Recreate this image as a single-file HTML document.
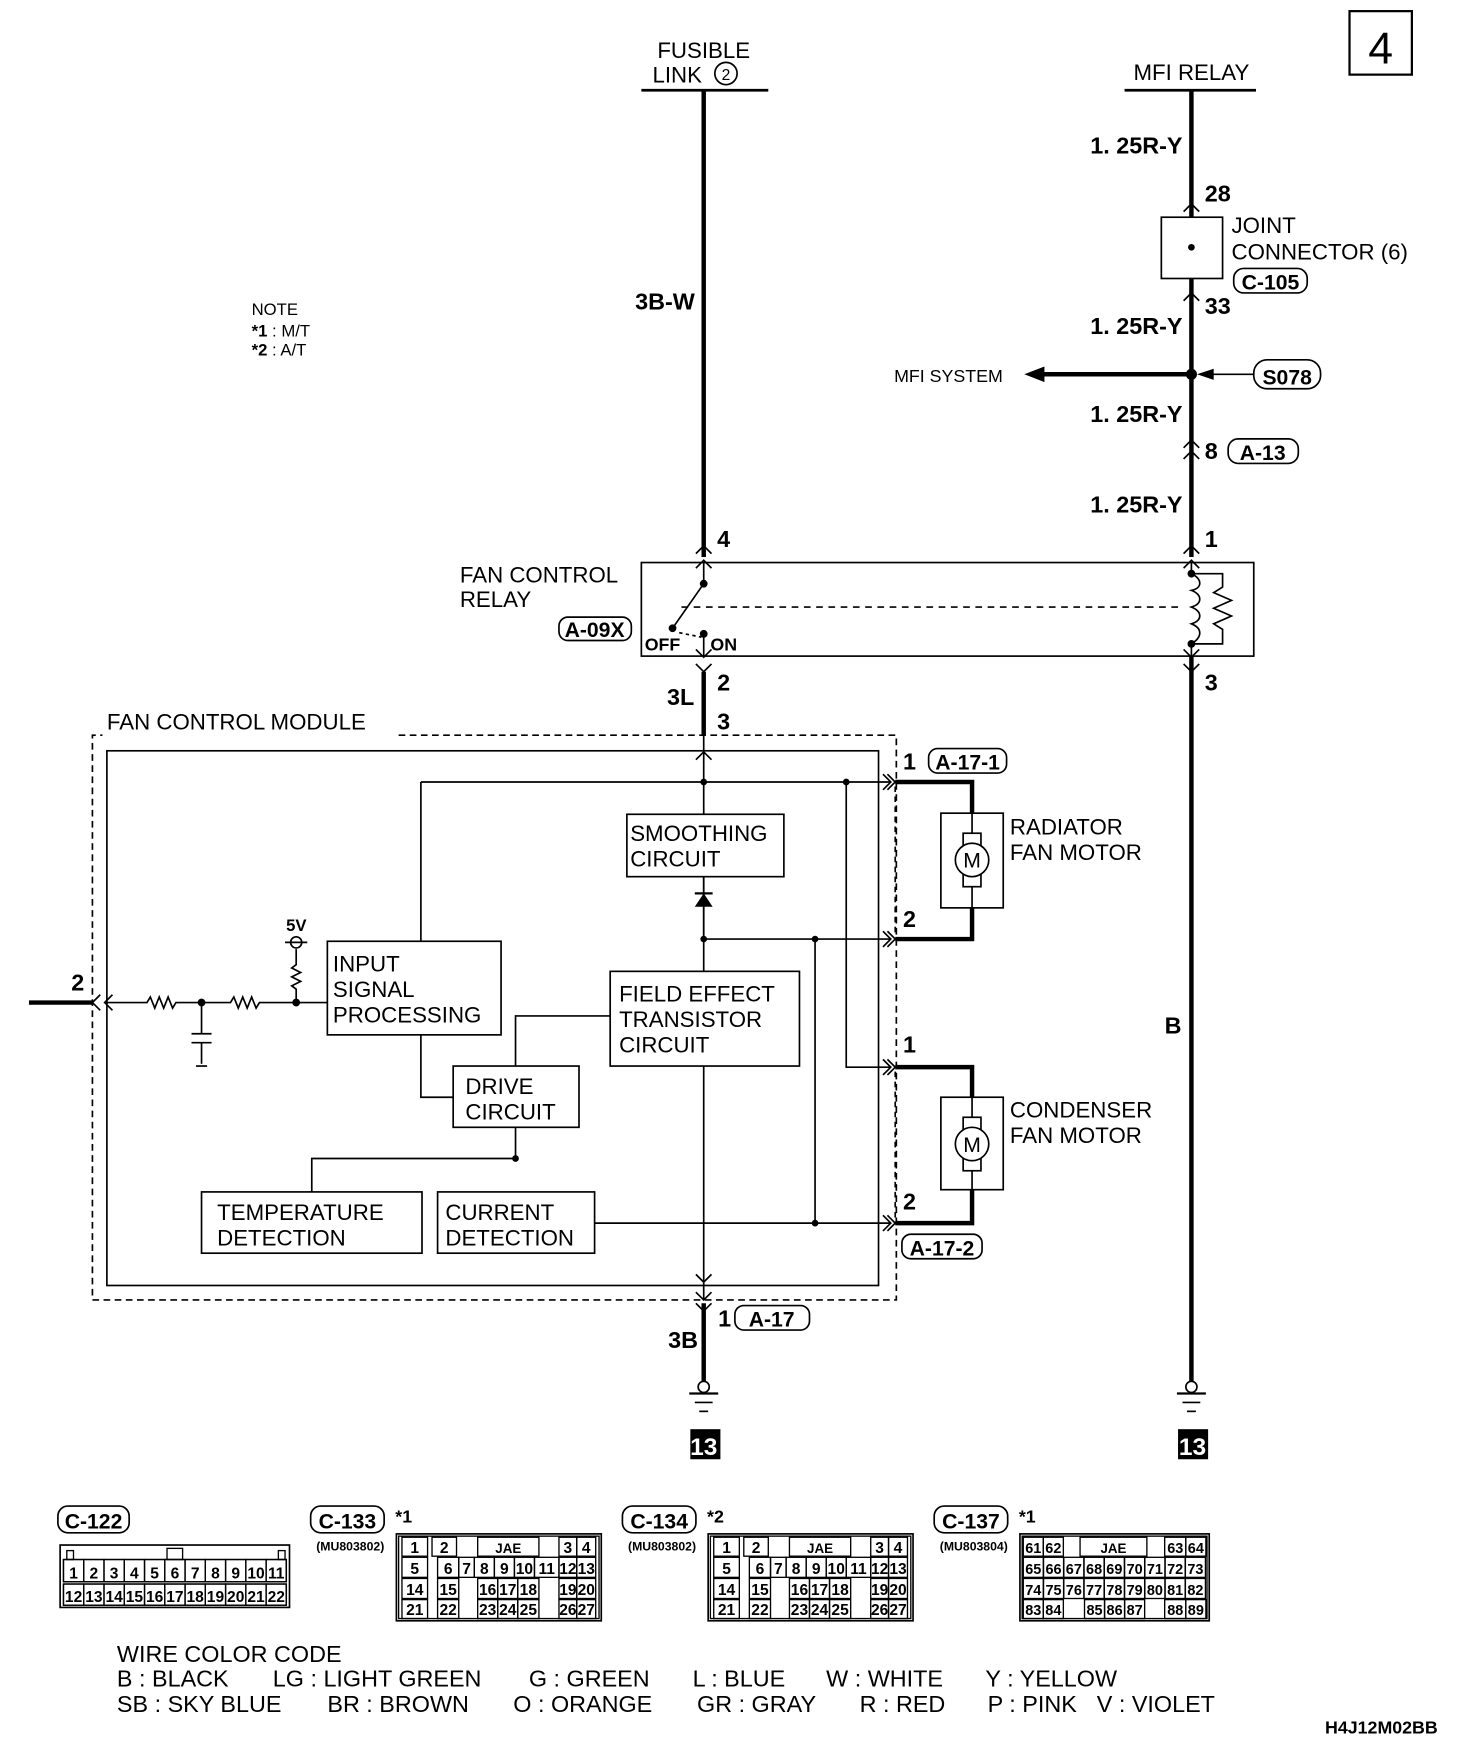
<!DOCTYPE html>
<html><head><meta charset="utf-8"><style>
html,body{margin:0;padding:0;background:#fff}
svg{display:block}
text{font-family:"Liberation Sans",sans-serif;fill:#000}
.b{font-weight:bold}
.n{font-family:"Liberation Sans Narrow","Liberation Sans",sans-serif;font-weight:bold}
</style></head><body>
<svg id="s" width="1472" height="1750" viewBox="0 0 1322 1571" preserveAspectRatio="none" xmlns="http://www.w3.org/2000/svg">
<g stroke="#000" fill="none" stroke-width="1.5">
<rect x="1212" y="10" width="56" height="57" stroke-width="2"/>
<line x1="576" y1="81" x2="690" y2="81" stroke-width="2.5"/>
<line x1="1010" y1="81" x2="1128" y2="81" stroke-width="2.5"/>
<circle cx="652" cy="66" r="10"/>
<line x1="632" y1="81" x2="632" y2="500" stroke-width="4"/>
<line x1="1070" y1="81" x2="1070" y2="500" stroke-width="4"/>
<rect x="1043" y="195" width="55" height="55" fill="#fff"/>
<polyline points="1063,190 1070,183 1077,190"/>
<polyline points="1063,270 1070,263 1077,270"/>
<rect x="1108" y="241" width="66" height="22" rx="9"/>
<line x1="930" y1="336" x2="1070" y2="336" stroke-width="4"/>
<rect x="1126" y="323" width="60" height="26" rx="12"/>
<line x1="1126" y1="336" x2="1080" y2="336"/>
<rect x="1103" y="394" width="63" height="22" rx="9"/>
<polyline points="1063,402 1070,395 1077,402"/>
<polyline points="1063,412 1070,405 1077,412"/>
<rect x="576" y="505" width="550" height="84"/>
<polyline points="625,497 632,490 639,497"/><polyline points="625,510 632,503 639,510"/>
<polyline points="1063,497 1070,490 1077,497"/><polyline points="1063,510 1070,503 1077,510"/>
<polyline points="625,583 632,590 639,583"/><polyline points="625,596 632,603 639,596"/>
<polyline points="1063,583 1070,590 1077,583"/><polyline points="1063,596 1070,603 1077,596"/>
<line x1="632" y1="505" x2="632" y2="524"/>
<line x1="632" y1="524" x2="604" y2="564"/>
<line x1="612" y1="545" x2="1062" y2="545" stroke-dasharray="6,5"/>
<line x1="632" y1="572" x2="632" y2="589"/>
<line x1="610" y1="568" x2="630" y2="572" stroke-dasharray="3,3"/>
<line x1="1070" y1="505" x2="1070" y2="515"/>
<path d="M1070,515 C1080,520 1080,528 1070,530 C1080,534 1080,542 1070,545 C1080,549 1080,557 1070,560 C1080,564 1080,572 1070,578"/>
<line x1="1070" y1="578" x2="1070" y2="589"/>
<polyline points="1070,515 1098,515 1098,527 1090,532 1106,539 1090,546 1106,553 1090,560 1098,565 1098,578 1070,578"/>
<rect x="502" y="554" width="65" height="21" rx="8"/>
<line x1="632" y1="603" x2="632" y2="660" stroke-width="4"/>
<line x1="1070" y1="589" x2="1070" y2="1240" stroke-width="4"/>
<path d="M358,660 H805 V1167 H83 V660 H92" stroke-dasharray="6,4"/>
<rect x="96" y="674" width="693" height="480"/>
<line x1="632" y1="660" x2="632" y2="1167"/>
<polyline points="625,682 632,675 639,682"/>
<polyline points="625,1144 632,1151 639,1144"/>
<line x1="378" y1="702" x2="800" y2="702"/>
<line x1="378" y1="702" x2="378" y2="845"/>
<rect x="563" y="731" width="141" height="56" fill="#fff"/>
<line x1="632" y1="843" x2="800" y2="843"/>
<rect x="294" y="845" width="156" height="84" fill="#fff"/>
<rect x="548" y="872" width="170" height="85" fill="#fff"/>
<polyline points="548,912 463,912 463,957"/>
<polyline points="378,929 378,985 407,985"/>
<rect x="407" y="957" width="113" height="55" fill="#fff"/>
<polyline points="463,1012 463,1040 280,1040 280,1070"/>
<rect x="181" y="1070" width="198" height="55" fill="#fff"/>
<rect x="393" y="1070" width="141" height="55" fill="#fff"/>
<line x1="534" y1="1098" x2="800" y2="1098"/>
<line x1="732" y1="843" x2="732" y2="1098"/>
<polyline points="760,702 760,958 800,958"/>
<polyline points="793,695 800,702 793,709"/><polyline points="797,695 804,702 797,709"/>
<polyline points="793,836 800,843 793,850"/><polyline points="797,836 804,843 797,850"/>
<polyline points="793,951 800,958 793,965"/><polyline points="797,951 804,958 797,965"/>
<polyline points="793,1091 800,1098 793,1105"/><polyline points="797,1091 804,1098 797,1105"/>
<line x1="804" y1="706" x2="804" y2="840" stroke-dasharray="5,4"/>
<line x1="804" y1="962" x2="804" y2="1094" stroke-dasharray="5,4"/>
<polyline points="804,702 873,702 873,730" stroke-width="4"/>
<polyline points="873,815 873,843 804,843" stroke-width="4"/>
<rect x="845" y="730" width="56" height="85"/>
<line x1="873" y1="730" x2="873" y2="815"/>
<rect x="865" y="748" width="16" height="48" fill="#fff"/>
<circle cx="873" cy="772" r="15" fill="#fff"/>
<polyline points="804,958 873,958 873,985" stroke-width="4"/>
<polyline points="873,1068 873,1098 804,1098" stroke-width="4"/>
<rect x="845" y="985" width="56" height="83"/>
<line x1="873" y1="985" x2="873" y2="1068"/>
<rect x="865" y="1003" width="16" height="48" fill="#fff"/>
<circle cx="873" cy="1027" r="15" fill="#fff"/>
<rect x="834" y="672" width="70" height="22" rx="8"/>
<rect x="810" y="1108" width="72" height="22" rx="8"/>
<line x1="26" y1="900" x2="83" y2="900" stroke-width="4"/>
<polyline points="90,893 83,900 90,907"/><polyline points="101,893 94,900 101,907"/>
<polyline points="94,900 132,900 135,895 139,905 143,895 147,905 151,895 155,905 158,900 207,900 210,895 214,905 218,895 222,905 226,895 230,905 233,900 294,900"/>
<line x1="181" y1="900" x2="181" y2="928"/>
<line x1="172" y1="928" x2="190" y2="928"/><line x1="172" y1="936" x2="190" y2="936"/>
<line x1="181" y1="936" x2="181" y2="955"/>
<line x1="176" y1="957" x2="186" y2="957"/>
<polyline points="266,900 266,888 262,885 270,881 262,877 270,873 262,869 266,866 266,852"/>
<circle cx="266" cy="846" r="5"/>
<line x1="256" y1="846" x2="276" y2="846"/>
<polyline points="625,1160 632,1167 639,1160"/><polyline points="625,1170 632,1177 639,1170"/>
<line x1="632" y1="1170" x2="632" y2="1240" stroke-width="4"/>
<rect x="660" y="1172" width="67" height="22" rx="8"/>
<circle cx="632" cy="1245" r="5"/><line x1="619" y1="1251" x2="645" y2="1251" stroke-width="2"/><line x1="624" y1="1259" x2="640" y2="1259"/><line x1="628" y1="1267" x2="636" y2="1267"/>
<circle cx="1070" cy="1245" r="5"/><line x1="1057" y1="1251" x2="1083" y2="1251" stroke-width="2"/><line x1="1062" y1="1259" x2="1078" y2="1259"/><line x1="1066" y1="1267" x2="1074" y2="1267"/>
<rect x="52" y="1352" width="64" height="24" rx="9"/>
<rect x="279" y="1352" width="66" height="24" rx="9"/>
<rect x="559" y="1352" width="66" height="24" rx="9"/>
<rect x="839" y="1352" width="66" height="24" rx="9"/>
</g>
<g fill="#000">
<polygon points="920,336 938,329 938,343"/>
<polygon points="1075,336 1090,331 1090,341"/>
<circle cx="1070" cy="222" r="3"/>
<circle cx="1070" cy="336" r="5"/>
<circle cx="632" cy="524" r="3.5"/><circle cx="604" cy="564" r="3.5"/><circle cx="632" cy="569" r="3.5"/>
<circle cx="1070" cy="515" r="3.5"/><circle cx="1070" cy="578" r="3.5"/>
<circle cx="632" cy="702" r="3"/><circle cx="760" cy="702" r="3"/>
<circle cx="632" cy="843" r="3"/><circle cx="732" cy="843" r="3"/>
<circle cx="463" cy="1040" r="3"/><circle cx="732" cy="1098" r="3"/>
<circle cx="181" cy="900" r="3.5"/><circle cx="266" cy="900" r="3.5"/>
<polygon points="624,814 640,814 632,802"/><rect x="624" y="801" width="16" height="2"/>
<rect x="620" y="1283" width="27" height="27"/>
<rect x="1058" y="1283" width="27" height="27"/>
</g>
<line x1="632" y1="787" x2="632" y2="843" stroke="#000" stroke-width="1.5"/>
<text x="1240" y="57" font-size="40" text-anchor="middle">4</text>
<text x="632" y="52" font-size="20" text-anchor="middle">FUSIBLE</text>
<text x="586" y="74" font-size="20">LINK</text>
<text x="652" y="72" font-size="14" text-anchor="middle">2</text>
<text x="1070" y="72" font-size="20" text-anchor="middle">MFI RELAY</text>
<g class="n" font-size="21">
<text x="1062" y="138" text-anchor="end" class="n">1. 25R-Y</text>
<text x="1062" y="300" text-anchor="end" class="n">1. 25R-Y</text>
<text x="1062" y="379" text-anchor="end" class="n">1. 25R-Y</text>
<text x="1062" y="460" text-anchor="end" class="n">1. 25R-Y</text>
<text x="1082" y="181" class="n">28</text>
<text x="1082" y="282" class="n">33</text>
<text x="1082" y="412" class="n">8</text>
<text x="624" y="278" text-anchor="end" class="n">3B-W</text>
<text x="644" y="491" class="n">4</text>
<text x="1082" y="491" class="n">1</text>
<text x="644" y="620" class="n">2</text>
<text x="1082" y="620" class="n">3</text>
<text x="599" y="633" class="n">3L</text>
<text x="644" y="655" class="n">3</text>
<text x="64" y="889" class="n">2</text>
<text x="811" y="691" class="n">1</text>
<text x="811" y="832" class="n">2</text>
<text x="811" y="945" class="n">1</text>
<text x="811" y="1086" class="n">2</text>
<text x="1046" y="928" class="n">B</text>
<text x="645" y="1191" class="n">1</text>
<text x="600" y="1210" class="n">3B</text>
</g>
<g class="n" font-size="19">
<text x="1141" y="260" text-anchor="middle" class="n">C-105</text>
<text x="1156" y="345" text-anchor="middle" class="n">S078</text>
<text x="1134" y="413" text-anchor="middle" class="n">A-13</text>
<text x="534" y="572" text-anchor="middle" class="n">A-09X</text>
<text x="869" y="691" text-anchor="middle" class="n">A-17-1</text>
<text x="846" y="1127" text-anchor="middle" class="n">A-17-2</text>
<text x="693" y="1191" text-anchor="middle" class="n">A-17</text>
<text x="84" y="1372" text-anchor="middle" class="n">C-122</text>
<text x="312" y="1372" text-anchor="middle" class="n">C-133</text>
<text x="592" y="1372" text-anchor="middle" class="n">C-134</text>
<text x="872" y="1372" text-anchor="middle" class="n">C-137</text>
</g>
<text x="579" y="584" font-size="16" class="n">OFF</text>
<text x="638" y="584" font-size="16" class="n">ON</text>
<text x="257" y="836" font-size="15" class="n">5V</text>
<text x="632" y="1306" font-size="22" text-anchor="middle" class="n" style="fill:#fff">13</text>
<text x="1071" y="1306" font-size="22" text-anchor="middle" class="n" style="fill:#fff">13</text>
<text x="1106" y="209" font-size="20">JOINT</text>
<text x="1106" y="233" font-size="20">CONNECTOR (6)</text>
<text x="803" y="343" font-size="16">MFI SYSTEM</text>
<text x="226" y="283" font-size="15">NOTE</text>
<text x="226" y="302" font-size="15"><tspan class="b">*1</tspan> : M/T</text>
<text x="226" y="319" font-size="15"><tspan class="b">*2</tspan> : A/T</text>
<text x="413" y="523" font-size="20">FAN CONTROL</text>
<text x="413" y="545" font-size="20">RELAY</text>
<text x="96" y="655" font-size="20">FAN CONTROL MODULE</text>
<g font-size="20">
<text x="566" y="755">SMOOTHING</text><text x="566" y="778">CIRCUIT</text>
<text x="299" y="872">INPUT</text><text x="299" y="895">SIGNAL</text><text x="299" y="918">PROCESSING</text>
<text x="556" y="899">FIELD EFFECT</text><text x="556" y="922">TRANSISTOR</text><text x="556" y="945">CIRCUIT</text>
<text x="418" y="982">DRIVE</text><text x="418" y="1005">CIRCUIT</text>
<text x="195" y="1095">TEMPERATURE</text><text x="195" y="1118">DETECTION</text>
<text x="400" y="1095">CURRENT</text><text x="400" y="1118">DETECTION</text>
<text x="907" y="749">RADIATOR</text><text x="907" y="772">FAN MOTOR</text>
<text x="907" y="1003">CONDENSER</text><text x="907" y="1026">FAN MOTOR</text>
</g>
<text x="873" y="779" font-size="19" text-anchor="middle">M</text>
<text x="873" y="1034" font-size="19" text-anchor="middle">M</text>
<text x="355" y="1367" font-size="16" class="b">*1</text>
<text x="635" y="1367" font-size="16" class="b">*2</text>
<text x="915" y="1367" font-size="16" class="b">*1</text>
<text x="284" y="1392" font-size="11" class="n">(MU803802)</text>
<text x="564" y="1392" font-size="11" class="n">(MU803802)</text>
<text x="844" y="1392" font-size="11" class="n">(MU803804)</text>
<g font-size="21">
<text x="105" y="1492">WIRE COLOR CODE</text>
<text x="105" y="1514">B : BLACK</text><text x="245" y="1514">LG : LIGHT GREEN</text><text x="475" y="1514">G : GREEN</text><text x="622" y="1514">L : BLUE</text><text x="742" y="1514">W : WHITE</text><text x="885" y="1514">Y : YELLOW</text>
<text x="105" y="1537">SB : SKY BLUE</text><text x="294" y="1537">BR : BROWN</text><text x="461" y="1537">O : ORANGE</text><text x="626" y="1537">GR : GRAY</text><text x="772" y="1537">R : RED</text><text x="887" y="1537">P : PINK</text><text x="985" y="1537">V : VIOLET</text>
</g>
<text x="1190" y="1556" font-size="16" class="n">H4J12M02BB</text>
<g id="conn"></g>
</svg>
<script>
var NS="http://www.w3.org/2000/svg",g=document.getElementById("conn");
function R(x,y,w,h,sw){var r=document.createElementNS(NS,"rect");r.setAttribute("x",x);r.setAttribute("y",y);r.setAttribute("width",w);r.setAttribute("height",h);r.setAttribute("fill","none");r.setAttribute("stroke","#000");r.setAttribute("stroke-width",sw||1.2);g.appendChild(r);}
function T(x,y,s,fs){var t=document.createElementNS(NS,"text");t.setAttribute("x",x);t.setAttribute("y",y);t.setAttribute("text-anchor","middle");t.setAttribute("font-size",fs||13);t.setAttribute("class","n");t.textContent=s;g.appendChild(t);}
function C(x1,x2,y1,y2,s,fs){R(x1,y1,x2-x1,y2-y1);T((x1+x2)/2,y2-3,s,fs);}
R(54,1387,206,56,1.5);R(57,1400,200,20);R(57,1422,200,19);
R(60,1392,6,8);R(250,1392,6,8);R(150,1390,14,10);
for(var i=0;i<11;i++){var x=57+i*18.2;C(x,x+18.2,1400,1420,""+(i+1),14);C(x,x+18.2,1422,1441,""+(i+12),14);}
function table(ox,lab){
 R(ox,1377,184,78,1.5);R(ox+2,1379,180,74,1.2);
 var ys=[[1380,1397],[1398,1416],[1417,1435],[1436,1453]];
 for(var r=0;r<4;r++)for(var k=0;k<lab[r].length;k++){var c=lab[r][k];C(ox+c[0]-356,ox+c[1]-356,ys[r][0],ys[r][1],c[2],c[2]=="JAE"?12:14);}
}
var L=[[[361,384,"1"],[388,410,"2"],[429,484,"JAE"],[502,518,"3"],[518,535,"4"]],
[[361,384,"5"],[393,412,"6"],[412,426,"7"],[426,444,"8"],[444,462,"9"],[462,480,"10"],[480,502,"11"],[502,518,"12"],[518,535,"13"]],
[[361,384,"14"],[393,412,"15"],[429,447,"16"],[447,465,"17"],[465,484,"18"],[502,518,"19"],[518,535,"20"]],
[[361,384,"21"],[393,412,"22"],[429,447,"23"],[447,465,"24"],[465,484,"25"],[502,518,"26"],[518,535,"27"]]];
table(356,L);table(636,L);
var ox=916;R(ox,1377,170,78,1.5);R(ox+2,1379,166,74,1.2);
C(919,937,1380,1397,"61",13);C(937,955,1380,1397,"62",13);C(970,1030,1380,1397,"JAE",12);C(1046,1065,1380,1397,"63",13);C(1065,1083,1380,1397,"64",13);
for(var i=0;i<9;i++){C(919+i*18.2,937+i*18.2,1398,1416,""+(65+i),13);C(919+i*18.2,937+i*18.2,1417,1435,""+(74+i),13);}
C(919,937,1436,1453,"83",13);C(937,955,1436,1453,"84",13);C(974,992,1436,1453,"85",13);C(992,1010,1436,1453,"86",13);C(1010,1028,1436,1453,"87",13);C(1046,1065,1436,1453,"88",13);C(1065,1083,1436,1453,"89",13);
</script>
</body></html>
